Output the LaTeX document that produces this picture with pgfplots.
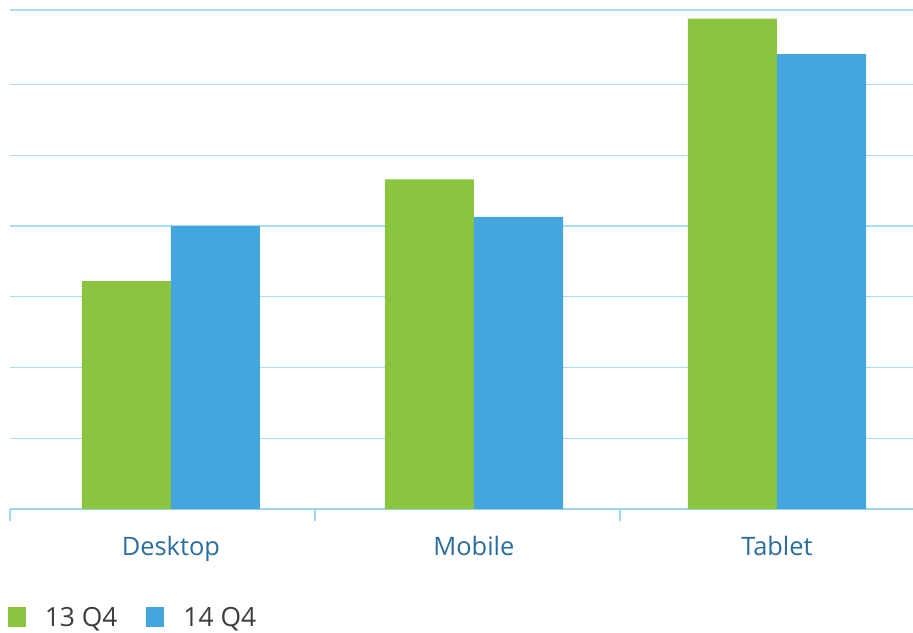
\documentclass[border=0pt]{standalone}
\usepackage{fontspec}
\setmainfont{Open Sans}
\usepackage{pgfplots}
\pgfplotsset{compat=1.18}
\definecolor{cgreen}{HTML}{8BC53F}
\definecolor{cblue}{HTML}{43A7DD}
\definecolor{cgrid}{HTML}{A8DDF2}
\definecolor{clabel}{HTML}{2A6D9E}
\definecolor{ctext}{HTML}{3C3C3C}
\begin{document}
\begin{tikzpicture}
\path[use as bounding box] (0,0) rectangle (913bp,-633bp);
\begin{axis}[
  at={(10bp,-509bp)}, anchor=south west,
  scale only axis, width=903bp, height=499bp,
  xmin=-0.531, xmax=2.449, ymin=0, ymax=7.053,
  axis x line*=bottom, axis y line*=left,
  y axis line style={draw=none},
  x axis line style={cgrid!90!cblue, line width=1.4bp, -},
  ytick={1,2,3,4,5,6,7.053}, ymajorgrids, yticklabels={},
  y tick style={draw=none},
  grid style={cgrid, line width=1.4bp},
  xtick={-0.531,0.475,1.482}, xticklabels={},
  tick align=outside, major tick length=12bp,
  x tick style={cgrid!90!cblue, line width=1.4bp},
  extra x ticks={0,1,2},
  extra x tick labels={Desktop,Mobile,Tablet},
  extra x tick style={major tick length=0pt, tick style={draw=none}, grid=none,
    xticklabel style={font=\fontsize{25.5}{28}\selectfont, text=clabel, yshift=-24bp}},
  ybar, bar width=0.294,
  legend style={at={(-0.006,-0.217)}, anchor=west, draw=none, fill=none,
    legend columns=2, font=\fontsize{26.5}{29}\selectfont, text=ctext,
    /tikz/every even column/.append style={column sep=27bp},
    nodes={inner xsep=2bp}},
  legend image code/.code={\fill[#1] (0bp,-9.5bp) rectangle (18bp,10bp);},
  legend cell align=left,
]
\addplot[fill=cgreen, draw=none, bar shift=-0.147] coordinates {(0,3.22) (1,4.66) (2,6.93)};
\addplot[fill=cblue, draw=none, bar shift=0.147] coordinates {(0,4.0) (1,4.13) (2,6.43)};
\legend{\hspace{17bp}13 Q4, \hspace{17bp}14 Q4}
\end{axis}
\end{tikzpicture}
\end{document}
